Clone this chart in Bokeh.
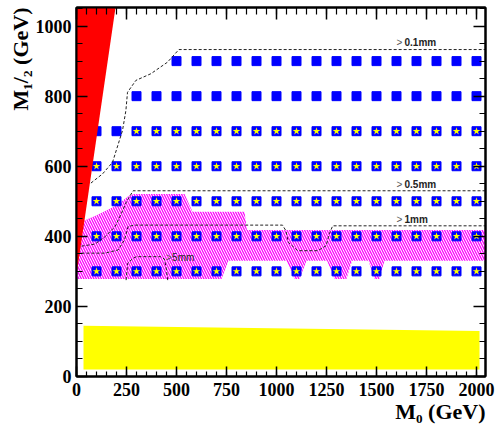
from bokeh.plotting import figure
from bokeh.models import (LinearAxis, Range1d, Label, FixedTicker,
                          CustomJSTickFormatter, Title)
from bokeh.embed import file_html
from bokeh.resources import INLINE

# ---------------- data ----------------
x_major_ticks = [0, 250, 500, 750, 1000, 1250, 1500, 1750, 2000]
y_major_ticks = [0, 200, 400, 600, 800, 1000]
x_minor_ticks = list(range(0, 2050, 50))
y_minor_ticks = list(range(0, 1060, 50))

x_title = "M₀ (GeV)"
y_title = "M₁/₂ (GeV)"

m0_scan = [100, 200, 300, 400, 500, 600, 700, 800, 900, 1000,
           1100, 1200, 1300, 1400, 1500, 1600, 1700, 1800, 1900, 2000]
rows_m12 = [300, 400, 500, 600, 700, 800, 900]
row_first_point = [100, 100, 100, 100, 100, 300, 500]
row_first_star = [100, 100, 100, 100, 300, None, None]

red_m0 = [0, 195, 0]
red_m12 = [290, 1053, 1053]

yellow_m0 = [35, 35, 2015, 2015]
yellow_m12 = [20, 145, 130, 20]

hatch_m0 = [0, 100, 200, 260, 285, 540, 580, 840, 852, 2045,
            2045, 1540, 1515, 1490, 1460, 1378, 1350, 1290, 1253,
            1150, 1115, 1090, 1050, 760, 725, 0]
hatch_m12 = [435, 460, 488, 515, 521, 521, 470, 470, 418, 418,
             330, 330, 278, 278, 330, 330, 278, 278, 330,
             330, 278, 278, 330, 330, 278, 278]

c01_m0 = [72, 130, 180, 230, 247, 255, 297, 372, 455, 512, 2045]
c01_m12 = [552, 578, 611, 702, 759, 811, 845, 864, 897, 933, 933]

c05_m0 = [0, 25, 93, 143, 193, 225, 250, 283, 2045]
c05_m12 = [370, 372, 378, 399, 428, 466, 499, 530, 530]

c1_m0 = [0, 142, 208, 240, 258, 290, 1030, 1047, 1059, 1106, 1206,
         1248, 1264, 1281, 2045]
c1_m12 = [352, 352, 361, 390, 428, 432, 432, 416, 383, 359, 359,
          373, 407, 430, 430]

c5_m0 = [248, 256, 282, 300, 420, 440, 448, 456]
c5_m12 = [275, 323, 337, 342, 342, 335, 311, 275]

contour_labels = ["0.1mm", "0.5mm", "1mm"]
contour_label_m12 = [952, 549, 447]

# ---------------- build ----------------
sq_x, sq_y, st_x, st_y = [], [], [], []
for r, f, s in zip(rows_m12, row_first_point, row_first_star):
    for m in m0_scan:
        if m >= f:
            sq_x.append(m); sq_y.append(r)
        if s is not None and m >= s:
            st_x.append(m); st_y.append(r)

p = figure(width=496, height=426, x_range=Range1d(0, 2045),
           y_range=Range1d(0, 1053), output_backend="svg",
           toolbar_location=None, min_border_left=76, min_border_right=11,
           min_border_top=7, min_border_bottom=50)
p.xgrid.visible = False
p.ygrid.visible = False
p.outline_line_color = "black"
p.outline_line_width = 2
p.background_fill_color = "white"
p.border_fill_color = "white"

num_font = "Liberation Serif"

def style_axis(ax, ticks, minor, maj_in, min_in, labels=True):
    ax.ticker = FixedTicker(ticks=ticks, minor_ticks=minor)
    ax.major_tick_in = maj_in
    ax.major_tick_out = 0
    ax.minor_tick_in = min_in
    ax.minor_tick_out = 0
    ax.axis_line_width = 2
    ax.axis_line_color = "black"
    ax.major_tick_line_color = "black"
    ax.minor_tick_line_color = "black"
    ax.major_tick_line_width = 1.5
    ax.minor_tick_line_width = 1.2
    if labels:
        ax.major_label_text_font = num_font
        ax.major_label_text_font_style = "bold"
        ax.major_label_text_font_size = "18px"
        ax.major_label_text_color = "black"
    else:
        ax.formatter = CustomJSTickFormatter(code="return ''")
        ax.major_label_standoff = 0

xa = p.xaxis[0]
style_axis(xa, x_major_ticks, x_minor_ticks, 10, 5)
xa.major_label_standoff = 6

ya = p.yaxis[0]
style_axis(ya, y_major_ticks, y_minor_ticks, 11, 6)
ya.major_label_standoff = 5

top = LinearAxis()
style_axis(top, x_major_ticks, x_minor_ticks, 12, 7, labels=False)
p.add_layout(top, "above")
right = LinearAxis()
style_axis(right, y_major_ticks, y_minor_ticks, 12, 6, labels=False)
p.add_layout(right, "right")

p.add_layout(Title(text=x_title, align="right", text_font=num_font,
                   text_font_size="22px", text_font_style="bold",
                   text_color="black", standoff=-3), "below")
p.add_layout(Title(text=y_title, align="right", text_font=num_font,
                   text_font_size="22px", text_font_style="bold",
                   text_color="black", standoff=0), "left")

# yellow band
p.patch(yellow_m0, yellow_m12, fill_color="#ffff00", line_color=None)
# hatched region
p.patch(hatch_m0, hatch_m12, fill_color=None, line_color=None,
        hatch_pattern="\\", hatch_color="#ff00ff", hatch_scale=5,
        hatch_weight=1.3)
# grid points
p.scatter(sq_x, sq_y, marker="square", size=9, fill_color="#0000ff",
          line_color="#0000ff")
p.scatter(st_x, st_y, marker="star", size=8, fill_color="#ffff00",
          line_color=None)
# contours
for cx, cy in [(c01_m0, c01_m12), (c05_m0, c05_m12), (c1_m0, c1_m12),
               (c5_m0, c5_m12)]:
    p.line(cx, cy, line_color="#222222", line_width=1, line_dash="3 2")
# red region
p.patch(red_m0, red_m12, fill_color="#ff0000", line_color=None)

# contour labels
for t, yv in zip(contour_labels, contour_label_m12):
    p.add_layout(Label(x=1600, y=yv, text=">", text_font="Liberation Sans",
                       text_font_size="10px", text_color="#555555",
                       text_baseline="middle"))
    p.add_layout(Label(x=1640, y=yv, text=t, text_font="Liberation Sans",
                       text_font_size="10px", text_font_style="bold",
                       text_color="#222222", text_baseline="middle"))
p.add_layout(Label(x=448, y=340, text=">", text_font="Liberation Sans",
                   text_font_size="10px", text_color="#555555",
                   text_baseline="middle"))
p.add_layout(Label(x=478, y=340, text="5mm", text_font="Liberation Sans",
                   text_font_size="10px", text_color="#222222",
                   text_baseline="middle"))

open("out.html", "w").write(file_html(p, INLINE))
